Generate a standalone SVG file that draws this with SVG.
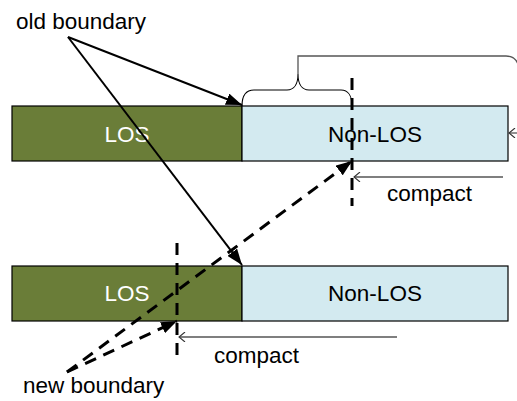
<svg xmlns="http://www.w3.org/2000/svg" width="517" height="401" viewBox="0 0 517 401">
  <style>
    .los { fill: #6a7d38; stroke: #000; stroke-width: 1.2; }
    .nlos { fill: #d3eaf0; stroke: #000; stroke-width: 1.2; }
    .lbl { font-family: "Liberation Sans", Arial, sans-serif; font-size: 22.5px; }
    .white { fill: #fff; }
    .black { fill: #000; }
    .solid { fill: none; stroke: #000; stroke-width: 2; }
    .dash { fill: none; stroke: #000; stroke-width: 3; stroke-dasharray: 12 8; }
    .thin { fill: none; stroke: #555; stroke-width: 1.3; }
    .brace { fill: none; stroke: #000; stroke-width: 1.1; }
  </style>
  <defs>
    <marker id="head" viewBox="0 0 16 12" refX="16" refY="6" markerWidth="16" markerHeight="12" markerUnits="userSpaceOnUse" orient="auto">
      <path d="M0,0 L16,6 L0,12 Z" fill="#000"/>
    </marker>
    <marker id="open" viewBox="0 0 8 10" refX="7" refY="5" markerWidth="8" markerHeight="10" markerUnits="userSpaceOnUse" orient="auto">
      <path d="M1,0 L7,5 L1,10" fill="none" stroke="#333" stroke-width="1.1"/>
    </marker>
  </defs>

  <!-- upper bar -->
  <g id="top-los">
    <rect class="los" x="12" y="106" width="230" height="55"/>
    <text class="lbl white" x="127" y="142" text-anchor="middle">LOS</text>
  </g>
  <g id="top-nlos">
    <rect class="nlos" x="242" y="106" width="266" height="55"/>
    <text class="lbl black" x="375" y="142" text-anchor="middle">Non-LOS</text>
  </g>

  <!-- lower bar -->
  <g id="bottom-los">
    <rect class="los" x="12" y="266" width="230" height="55"/>
    <text class="lbl white" x="127" y="301" text-anchor="middle">LOS</text>
  </g>
  <g id="bottom-nlos">
    <rect class="nlos" x="242" y="266" width="266" height="55"/>
    <text class="lbl black" x="375" y="301" text-anchor="middle">Non-LOS</text>
  </g>

  <!-- captions -->
  <g id="old-boundary">
    <text class="lbl black" x="16" y="29">old boundary</text>
  </g>
  <g id="new-boundary">
    <text class="lbl black" x="23" y="393">new boundary</text>
  </g>
  <g id="compact-top">
    <text class="lbl black" x="387" y="201">compact</text>
  </g>
  <g id="compact-bottom">
    <text class="lbl black" x="214" y="363">compact</text>
  </g>

  <g id="connectors">
    <!-- brace over the compacted span and its leader -->
    <path class="brace" d="M242,106 C242,96 245,90 254,90 L287,90 C294,90 298,84 298,74 C298,84 302,90 309,90 L341,90 C348,90 352,96 352,106"/>
    <path class="thin" d="M298,74 L298,56 L506,56 Q517,56 519,68"/>
    <path class="thin" d="M517,133 L509,133" marker-end="url(#open)"/>

    <!-- old boundary pointers -->
    <path class="solid" d="M68,37 L242,105" marker-end="url(#head)"/>
    <path class="solid" d="M68,37 L242,265" marker-end="url(#head)"/>

    <!-- new boundary positions -->
    <path class="dash" d="M352,78 L352,206"/>
    <path class="dash" d="M177,243 L177,362"/>

    <!-- new boundary pointers -->
    <path class="dash" d="M67,372 L352,161" marker-end="url(#head)"/>
    <path class="dash" d="M67,372 L177,321" marker-end="url(#head)"/>

    <!-- compaction arrows -->
    <path class="thin" d="M503,177 L354,177" marker-end="url(#open)"/>
    <path class="thin" d="M397,337 L179,337" marker-end="url(#open)"/>
  </g>
</svg>
